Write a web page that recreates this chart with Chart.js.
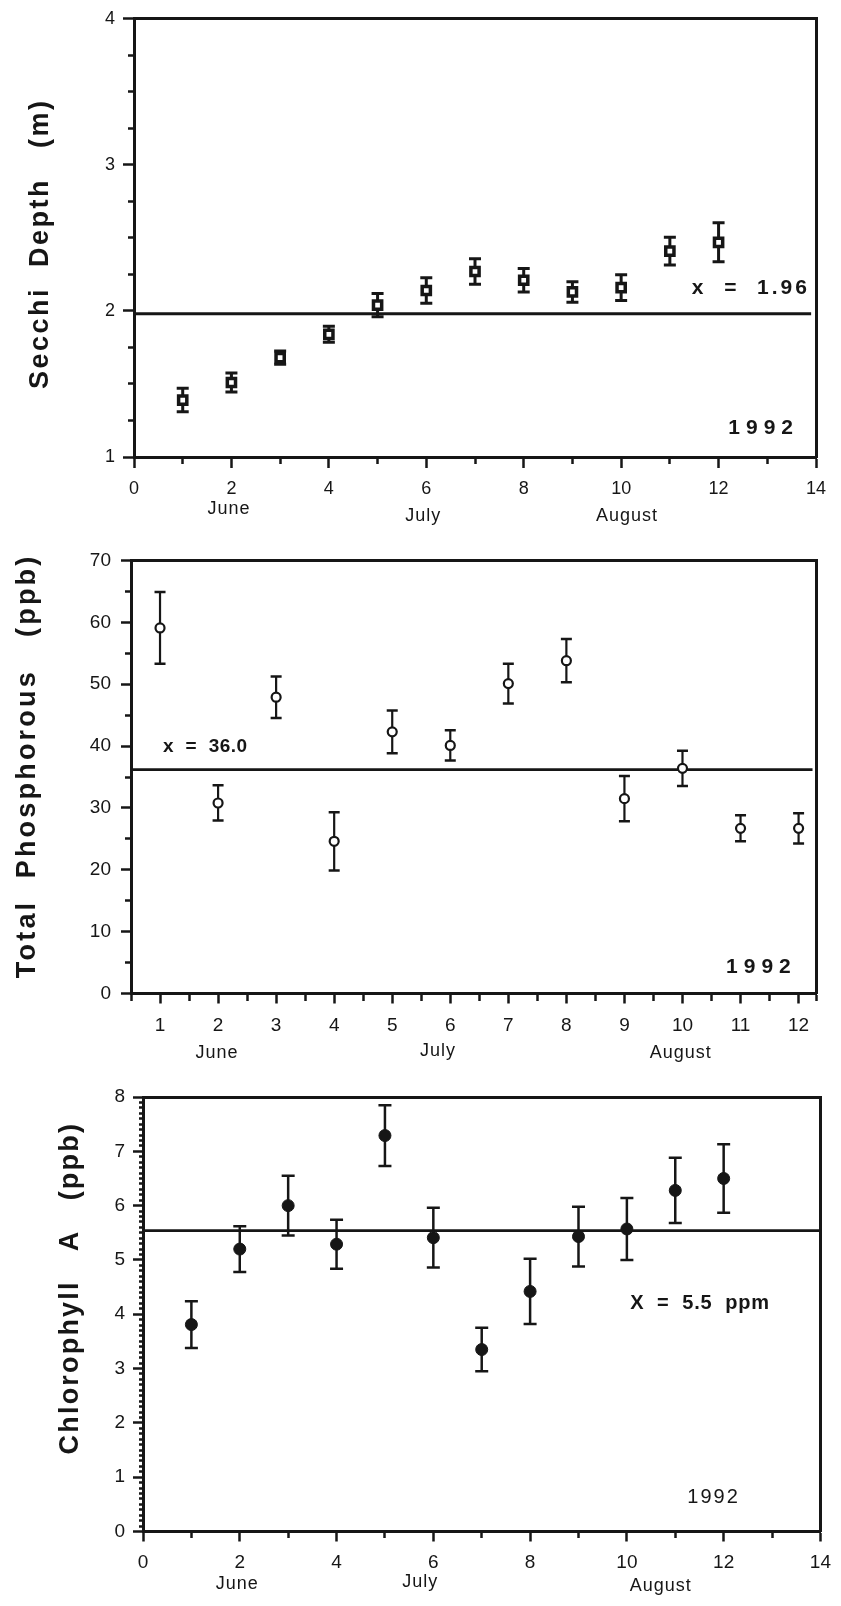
<!DOCTYPE html>
<html><head><meta charset="utf-8">
<script src="https://cdn.jsdelivr.net/npm/chart.js@4.4.1/dist/chart.umd.min.js"></script>
<style>
html,body{margin:0;padding:0;background:#fff;}
#wrap{position:relative;width:841px;height:1606px;overflow:hidden;background:#fff;}
#wrap canvas{position:absolute;left:0;}
</style></head><body>
<div id="wrap">
<canvas id="c1" width="841" height="530" style="top:0px"></canvas>
<canvas id="c2" width="841" height="535" style="top:530px"></canvas>
<canvas id="c3" width="841" height="541" style="top:1065px"></canvas>
</div>
<script>
// ---------------- DATA ----------------
const sampleIndex = [1, 2, 3, 4, 5, 6, 7, 8, 9, 10, 11, 12];

const secchiDepth = [1.39, 1.51, 1.68, 1.84, 2.04, 2.14, 2.27, 2.21, 2.13, 2.16, 2.41, 2.47];
const secchiError = [0.08, 0.065, 0.045, 0.055, 0.08, 0.088, 0.088, 0.08, 0.07, 0.088, 0.095, 0.133];
const secchiMean = 1.98;
const secchiMeanSpan = [0, 13.9];
const secchiXTickLabels = [0, 2, 4, 6, 8, 10, 12, 14];
const secchiYTickLabels = [1, 2, 3, 4];

const phosphorus = [59.1, 30.8, 47.9, 24.6, 42.3, 40.1, 50.1, 53.8, 31.5, 36.4, 26.7, 26.7];
const phosphorusError = [5.8, 2.85, 3.35, 4.7, 3.45, 2.45, 3.2, 3.5, 3.65, 2.85, 2.1, 2.45];
const phosphorusMean = 36.2;
const phosphorusMeanSpan = [0.5, 12.24];
const phosphorusXTickLabels = [1, 2, 3, 4, 5, 6, 7, 8, 9, 10, 11, 12];
const phosphorusYTickLabels = [0, 10, 20, 30, 40, 50, 60, 70];

const chlorophyll = [3.81, 5.20, 6.00, 5.29, 7.29, 5.41, 3.35, 4.42, 5.43, 5.57, 6.28, 6.50];
const chlorophyllError = [0.43, 0.42, 0.55, 0.45, 0.56, 0.55, 0.40, 0.60, 0.55, 0.57, 0.60, 0.63];
const chlorophyllMean = 5.54;
const chlorophyllMeanSpan = [0, 14];
const chlorophyllXTickLabels = [0, 2, 4, 6, 8, 10, 12, 14];
const chlorophyllYTickLabels = [0, 1, 2, 3, 4, 5, 6, 7, 8];

const monthNames = ['June', 'July', 'August'];
const yearLabel = '1992';

// ---------------- RENDERING ----------------
const FONT = "'Liberation Sans', Arial, Helvetica, sans-serif";
const INK = '#161616';

const notesPlugin = {
  id: 'notes',
  afterDraw(chart, args, opts) {
    const ctx = chart.ctx, xs = chart.scales.x, ys = chart.scales.y;
    (opts.items || []).forEach(it => {
      ctx.save();
      ctx.font = it.font;
      ctx.fillStyle = INK;
      if ('letterSpacing' in ctx) ctx.letterSpacing = (it.ls || 0) + 'px';
      ctx.textAlign = it.align || 'left';
      ctx.textBaseline = 'middle';
      const px = it.px !== undefined ? it.px : xs.getPixelForValue(it.x);
      const py = it.dy !== undefined ? ys.bottom + it.dy : ys.getPixelForValue(it.y);
      ctx.translate(px, py);
      if (it.rot) ctx.rotate(it.rot);
      ctx.fillText(it.text, 0, 0);
      ctx.restore();
    });
  }
};

function buildErrorData(xs, vals, errs) {
  const stems = [], caps = [];
  xs.forEach((x, i) => {
    const lo = vals[i] - errs[i], hi = vals[i] + errs[i];
    stems.push({x, y: lo}, {x, y: hi}, {x, y: null});
    caps.push({x, y: lo}, {x, y: hi});
  });
  return {stems, caps};
}

function makeChart(id, c) {
  const eb = buildErrorData(sampleIndex, c.values, c.errors);
  const isMajorX = v => c.xLabels.includes(v);
  const isMajorY = v => c.yLabels.includes(v);
  const frame = {display: true, width: 3, color: INK};
  return new Chart(document.getElementById(id), {
    type: 'scatter',
    data: {
      datasets: [
        { // markers
          data: sampleIndex.map((x, i) => ({x, y: c.values[i]})),
          pointStyle: c.marker.style, pointRadius: c.marker.r, pointHoverRadius: c.marker.r,
          borderWidth: c.marker.bw, pointBorderWidth: c.marker.bw,
          borderColor: INK, backgroundColor: c.marker.fill, showLine: false
        },
        { // caps
          data: eb.caps, pointStyle: 'line', pointRadius: c.cap.r, pointHoverRadius: c.cap.r,
          borderWidth: c.cap.bw, pointBorderWidth: c.cap.bw, borderColor: INK, showLine: false
        },
        { // stems
          data: eb.stems, showLine: true, spanGaps: false, pointRadius: 0,
          borderWidth: c.stemW, borderColor: INK
        },
        { // mean line
          data: c.meanSpan.map(x => ({x, y: c.mean})), showLine: true, pointRadius: 0,
          borderWidth: c.meanW, borderColor: INK
        }
      ]
    },
    options: {
      responsive: false, animation: false, events: [],
      layout: {padding: {left: 0, top: c.area.t, right: 841 - c.area.r, bottom: 0}},
      plugins: {legend: {display: false}, tooltip: {enabled: false}, notes: {items: c.notes}},
      scales: {
        x: {
          type: 'linear', position: 'bottom', min: c.xMin, max: c.xMax, bounds: 'data',
          ticks: {stepSize: c.xStep, includeBounds: false, autoSkip: false, maxRotation: 0, minRotation: 0,
                  padding: c.xPad, color: INK, font: {family: FONT, size: c.tickSize},
                  callback: v => c.xLabels.includes(v) ? String(v) : ''},
          grid: {drawOnChartArea: false, drawTicks: true, tickLength: c.tickMajor, tickWidth: 2.5, tickColor: INK,
                 tickBorderDash: ctx => (ctx.tick && isMajorX(ctx.tick.value)) ? [] : [c.tickMinor, 100]},
          border: frame,
          afterFit: s => { s.height = c.h - c.area.b; }
        },
        y: {
          type: 'linear', position: 'left', min: c.yMin, max: c.yMax, bounds: 'data',
          ticks: {stepSize: c.yStep, includeBounds: false, autoSkip: false, padding: c.yPad, color: INK,
                  font: {family: FONT, size: c.tickSize},
                  callback: v => c.yLabels.includes(v) ? String(v) : ''},
          grid: {drawOnChartArea: false, drawTicks: true, tickLength: c.tickMajor, tickWidth: 2.5, tickColor: INK,
                 tickBorderDash: ctx => (ctx.tick && isMajorY(ctx.tick.value)) ? [] : [0, c.tickMajor - c.yMinorLen, c.yMinorLen, 0]},
          border: frame,
          afterFit: s => { s.width = c.area.l; }
        },
        xt: {axis: 'x', type: 'linear', position: 'top', min: c.xMin, max: c.xMax,
             ticks: {display: false}, grid: {display: false, drawTicks: false, tickLength: 0}, border: frame,
             afterFit: s => { s.height = 0; }},
        yr: {axis: 'y', type: 'linear', position: 'right', min: c.yMin, max: c.yMax,
             ticks: {display: false}, grid: {display: false, drawTicks: false, tickLength: 0}, border: frame,
             afterFit: s => { s.width = 0; }}
      }
    },
    plugins: [notesPlugin]
  });
}

const titleFont = "bold 27px " + FONT;
const monthFont = "18px " + FONT;

makeChart('c1', {
  h: 530, area: {l: 134, t: 15, r: 816, b: 457},
  values: secchiDepth, errors: secchiError, mean: secchiMean, meanSpan: secchiMeanSpan,
  xMin: 0, xMax: 14, xStep: 1, xLabels: secchiXTickLabels,
  yMin: 1, yMax: 4, yStep: 0.25, yLabels: secchiYTickLabels,
  tickSize: 18, xPad: 10, yPad: 8, tickMajor: 11, tickMinor: 5, yMinorLen: 6,
  marker: {style: 'rect', r: 5.8, bw: 3.5, fill: '#ffffff'},
  cap: {r: 6, bw: 3}, stemW: 3, meanW: 3,
  notes: [
    {text: 'Secchi  Depth   (m)', px: 41, y: 2.46, rot: -Math.PI / 2, align: 'center', font: titleFont, ls: 2.5},
    {text: 'x  =  1.96', x: 11.45, y: 2.157, font: 'bold 21px ' + FONT, ls: 3},
    {text: yearLabel, x: 12.2, y: 1.2, font: 'bold 21px ' + FONT, ls: 6},
    {text: monthNames[0], x: 1.95, dy: 52, align: 'center', font: monthFont, ls: 1},
    {text: monthNames[1], x: 5.94, dy: 59, align: 'center', font: monthFont, ls: 1},
    {text: monthNames[2], x: 10.12, dy: 59, align: 'center', font: monthFont, ls: 1}
  ]
});

makeChart('c2', {
  h: 535, area: {l: 131, t: 30.5, r: 816, b: 463.5},
  values: phosphorus, errors: phosphorusError, mean: phosphorusMean, meanSpan: phosphorusMeanSpan,
  xMin: 0.5, xMax: 12.3, xStep: 0.5, xLabels: phosphorusXTickLabels,
  yMin: 0, yMax: 70, yStep: 5, yLabels: phosphorusYTickLabels,
  tickSize: 19, xPad: 11, yPad: 10, tickMajor: 10, tickMinor: 6, yMinorLen: 6,
  marker: {style: 'circle', r: 4.5, bw: 2.2, fill: '#ffffff'},
  cap: {r: 5.5, bw: 2.5}, stemW: 2.2, meanW: 2.6,
  notes: [
    {text: 'Total  Phosphorous   (ppb)', px: 28, y: 36.8, rot: -Math.PI / 2, align: 'center', font: titleFont, ls: 3.2},
    {text: 'x  =  36.0', x: 1.05, y: 39.9, font: 'bold 19px ' + FONT, ls: 0.5},
    {text: yearLabel, x: 10.75, y: 4.3, font: 'bold 21px ' + FONT, ls: 6},
    {text: monthNames[0], x: 1.98, dy: 60, align: 'center', font: monthFont, ls: 1},
    {text: monthNames[1], x: 5.79, dy: 58, align: 'center', font: monthFont, ls: 1},
    {text: monthNames[2], x: 9.97, dy: 60, align: 'center', font: monthFont, ls: 1}
  ]
});

makeChart('c3', {
  h: 541, area: {l: 143, t: 32, r: 821, b: 466.5},
  values: chlorophyll, errors: chlorophyllError, mean: chlorophyllMean, meanSpan: chlorophyllMeanSpan,
  xMin: 0, xMax: 14, xStep: 1, xLabels: chlorophyllXTickLabels,
  yMin: 0, yMax: 8, yStep: 0.1, yLabels: chlorophyllYTickLabels,
  tickSize: 19, xPad: 10, yPad: 8, tickMajor: 10, tickMinor: 5, yMinorLen: 4,
  marker: {style: 'circle', r: 6, bw: 1, fill: INK},
  cap: {r: 6.5, bw: 2.5}, stemW: 2.5, meanW: 2.6,
  notes: [
    {text: 'Chlorophyll   A   (ppb)', px: 71, y: 4.48, rot: -Math.PI / 2, align: 'center', font: titleFont, ls: 2.2},
    {text: 'X  =  5.5  ppm', x: 10.07, y: 4.19, font: 'bold 20px ' + FONT, ls: 0.8},
    {text: yearLabel, x: 11.25, y: 0.62, font: '20px ' + FONT, ls: 2},
    {text: monthNames[0], x: 1.95, dy: 53, align: 'center', font: monthFont, ls: 1},
    {text: monthNames[1], x: 5.73, dy: 51, align: 'center', font: monthFont, ls: 1},
    {text: monthNames[2], x: 10.7, dy: 55, align: 'center', font: monthFont, ls: 1}
  ]
});
</script>
</body></html>
